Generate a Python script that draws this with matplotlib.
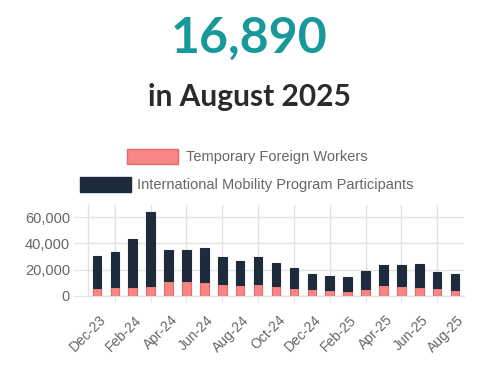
import numpy as np
import matplotlib.pyplot as plt
import matplotlib.transforms as mtransforms
from matplotlib.patches import Rectangle

months = ['Dec-23', 'Jan-24', 'Feb-24', 'Mar-24', 'Apr-24', 'May-24', 'Jun-24',
          'Jul-24', 'Aug-24', 'Sep-24', 'Oct-24', 'Nov-24', 'Dec-24', 'Jan-25',
          'Feb-25', 'Mar-25', 'Apr-25', 'May-25', 'Jun-25', 'Jul-25', 'Aug-25']
tfw = [5900, 6700, 6700, 7700, 11500, 11000, 10500, 9200, 7900, 8700, 7200,
       5900, 5100, 4100, 3800, 5100, 7900, 7700, 6700, 5900, 4600]
total = [30500, 33300, 43100, 64100, 34900, 34900, 36200, 29700, 26200, 29700,
         25400, 21300, 16400, 14900, 14400, 18700, 23600, 23600, 24400, 18500, 16890]
imp = [t - f for t, f in zip(total, tfw)]

pink = '#fa8585'
pink_edge = '#e46a6a'
navy = '#1e2b3c'
grey = '#666666'
grid_c = '#e3e3e3'

fig = plt.figure(figsize=(4.89, 3.75), dpi=100)

fig.text(0.5102, 0.8587, '16,890', ha='center', va='baseline', fontsize=36,
         fontweight='bold', family='Lato', color='#17999a')
fig.text(0.5092, 0.717, 'in August 2025', ha='center', va='baseline', fontsize=21.5,
         fontweight='bold', family='Lato', color='#2b2b2b')

# legend drawn by hand, two centred rows like the original
fig.patches.append(Rectangle((127 / 489, 1 - 164 / 375), 51 / 489, 15 / 375,
                             transform=fig.transFigure, facecolor=pink,
                             edgecolor=pink_edge, linewidth=1))
fig.text(186 / 489, 1 - 156.5 / 375, 'Temporary Foreign Workers', ha='left', va='center',
         fontsize=10.5, family='Liberation Sans', color=grey)
fig.patches.append(Rectangle((80 / 489, 1 - 192 / 375), 51 / 489, 15 / 375,
                             transform=fig.transFigure, facecolor=navy,
                             edgecolor=navy, linewidth=1))
fig.text(137 / 489, 1 - 184.5 / 375, 'International Mobility Program Participants',
         ha='left', va='center', fontsize=10.5, family='Liberation Sans', color=grey)

ax = fig.add_axes([88 / 489, 1 - 295.7 / 375, 376 / 489, 90.7 / 375])
x = np.arange(len(months))
ax.bar(x, tfw, width=0.48, color=pink, edgecolor=pink_edge, linewidth=0.8, zorder=3)
ax.bar(x, imp, bottom=tfw, width=0.48, color=navy, edgecolor=navy, linewidth=0.8, zorder=3)

ax.set_xlim(-0.5, len(months) - 0.5)
ax.set_ylim(0, 69400)
ax.set_yticks([0, 20000, 40000, 60000])
ax.set_yticklabels(['0', '20,000', '40,000', '60,000'])
ax.set_xticks(x[::2])
ax.set_xticklabels(months[::2], rotation=45, ha='right', va='top', rotation_mode='anchor')
ax.set_xticks(x[1::2], minor=True)

for s in ['top', 'right']:
    ax.spines[s].set_visible(False)
for s in ['left', 'bottom']:
    ax.spines[s].set_color(grid_c)
    ax.spines[s].set_linewidth(1)

ax.grid(axis='y', color=grid_c, linewidth=1, zorder=0)
ax.grid(axis='x', which='minor', color=grid_c, linewidth=1, zorder=0)
ax.tick_params(axis='x', which='major', length=0, pad=12.3, labelsize=10, labelcolor=grey)
ax.tick_params(axis='x', which='minor', length=5, color=grid_c)
ax.tick_params(axis='y', length=10, color=grid_c, pad=3, labelsize=10.5, labelcolor=grey)
for lab in ax.get_xticklabels() + ax.get_yticklabels():
    lab.set_family('Liberation Sans')

# nudge the rotated month labels a little to the right
shift = mtransforms.ScaledTranslation(2 / 100, 0, fig.dpi_scale_trans)
for lab in ax.get_xticklabels():
    lab.set_transform(lab.get_transform() + shift)

fig.savefig('out.png', dpi=100)
